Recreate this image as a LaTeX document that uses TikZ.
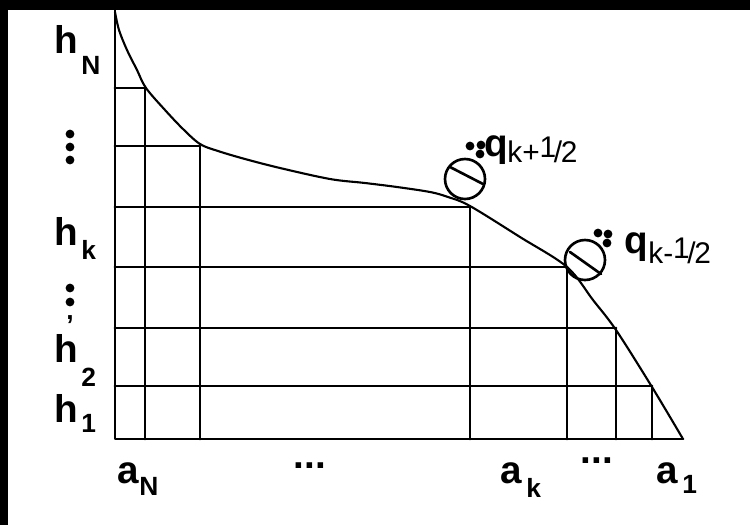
\documentclass[tikz,border=0pt]{standalone}
\usepackage{fontspec}
\setmainfont{Liberation Sans}
\newcommand\halfsub{\raisebox{0.15em}{1}\kern-0.08em/\kern-0.05em2}
\begin{document}
\begin{tikzpicture}[x=0.02cm,y=-0.02cm,line join=round,line cap=round,
  gridline/.style={line width=1.65pt},
  curveline/.style={line width=1.2pt},
  valve/.style={line width=1.5pt},
  lab/.style={font=\bfseries\fontsize{22}{22}\selectfont,inner sep=0pt,anchor=base west},
  sublab/.style={font=\bfseries\fontsize{15}{15}\selectfont,inner sep=0pt,anchor=base west},
  qsub/.style={font=\fontsize{17}{17}\selectfont,inner sep=0pt,anchor=base west},
  vd/.style={circle,fill=black,inner sep=0pt,minimum size=5}]
\useasboundingbox (0,0) rectangle (750,525);
\fill[white] (0,0) rectangle (750,525);
\fill[black] (0,0) rectangle (750,10);
\fill[black] (0,0) rectangle (8,525);
% frame
\coordinate (Ytop) at (115,10);
\coordinate (O) at (115,439);
\coordinate (E) at (683,439);
\draw[gridline] (Ytop) -- (O) -- (E);
% horizontal levels and verticals
\foreach \y/\x in {88/145,146/200,207/470,267/567,328/616,386/652}{
  \draw[gridline] (115,\y) -- (\x,\y);
  \draw[gridline] (\x,\y) -- (\x,439);
}
% curve
\draw[curveline] plot[smooth,tension=0.55] coordinates {(115,12) (119,30) (127,50) (137,70) (146,88) (165,110) (183,129) (200,144) (218,151) (245,159) (280,168) (330,179) (365,183) (397,187) (430,192) (448,197) (470,206) (520,237) (567,267) (593,300) (616,330) (652,387) (683,439)};
% valves
\draw[valve] (465,179) circle[radius=20];
\draw[valve] (450,167) -- (483,184);
\node[vd] (d1) at (470,146) {};
\node[vd] (d2) at (481,145) {};
\node[vd] (d3) at (480,154) {};
\draw[valve] (585,260) circle[radius=20];
\draw[valve] (570,252) -- (601,274);
\node[vd] (e1) at (598,233) {};
\node[vd] (e2) at (608,234) {};
\node[vd] (e3) at (607,243) {};
\node[lab] (qa) at (484,156) {q};
\node[qsub] (qas) at (507,162) {k+\halfsub};
\node[lab] (qb) at (624,253) {q};
\node[qsub] (qbs) at (648,263) {k-\halfsub};
% left labels
\node[lab] (hN) at (54,53) {h};
\node[sublab] (hNs) at (81,74) {N};
\node[vd] (v1) at (70,134) {};
\node[vd] (v2) at (70,147) {};
\node[vd] (v3) at (70,160) {};
\node[lab] (hk) at (54,245) {h};
\node[sublab] (hks) at (81,259) {k};
\node[vd] (w1) at (70,288) {};
\node[vd] (w2) at (70,302) {};
\node[sublab,anchor=base] (w3) at (70,319) {,};
\node[lab] (h2) at (54,362) {h};
\node[sublab] (h2s) at (81,386) {2};
\node[lab] (h1) at (54,422) {h};
\node[sublab] (h1s) at (81,432) {1};
% bottom labels
\node[lab] (aN) at (117,483) {a};
\node[sublab] (aNs) at (139,495) {N};
\node[lab,anchor=center] (dotsA) at (310,466) {...};
\node[lab] (ak) at (500,483) {a};
\node[sublab] (aks) at (526,497) {k};
\node[lab,anchor=center] (dotsB) at (597,461) {...};
\node[lab] (a1) at (656,483) {a};
\node[sublab] (a1s) at (682,493) {1};
\end{tikzpicture}
\end{document}
